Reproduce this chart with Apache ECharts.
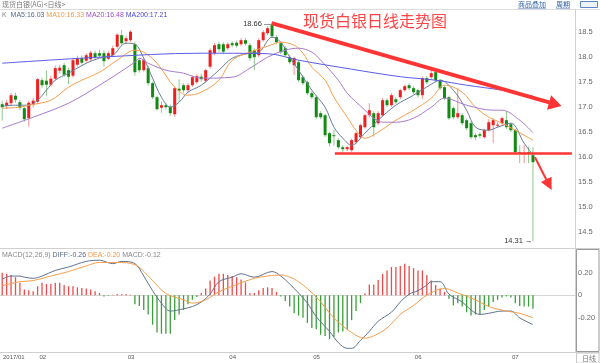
<!DOCTYPE html>
<html><head><meta charset="utf-8">
<script src="https://cdn.jsdelivr.net/npm/echarts@6/dist/echarts.min.js"></script>
<style>html,body{margin:0;padding:0;background:#fff}#c{width:600px;height:363px}</style>
</head><body><div id="c"></div>
<script>
// ---- tick labels (month starts on the candle index axis) ----
const monthLabels = ['2017/01','02','03','04','05','06','07'];
const monthStarts = [0, 9, 29, 52, 71, 94, 116];
const priceTicks = [14.5, 15.0, 15.5, 16.0, 16.5, 17.0, 17.5, 18.0, 18.5];
const macdTicks = [-0.2, 0, 0.2];

// ---- daily candles ----
const opens = [17.05,17.02,17.07,17.22,17.09,16.97,16.77,17.04,17.10,17.53,
17.52,17.44,17.56,17.72,17.83,17.73,17.62,17.84,17.97,17.92,
17.95,18.07,18.07,18.07,17.96,18.03,18.20,18.43,18.31,18.33,
18.25,17.93,17.73,17.77,17.47,17.19,16.98,17.03,17.00,16.85,
17.36,17.43,17.33,17.43,17.49,17.60,17.52,17.80,18.07,18.25,
18.25,18.17,18.27,18.28,18.25,18.33,18.23,18.13,18.03,18.33,
18.47,18.63,18.39,18.27,18.17,17.99,17.83,17.89,17.59,17.49,
17.27,17.19,16.87,16.83,16.47,16.43,16.33,16.19,16.15,16.13,
16.29,16.39,16.59,16.83,16.87,16.67,16.83,17.13,17.03,17.15,
17.19,17.33,17.43,17.37,17.33,17.23,17.57,17.59,17.69,17.53,
17.39,17.19,16.97,16.79,16.83,16.73,16.67,16.43,16.45,16.39,
16.53,16.63,16.63,16.67,16.73,16.65,16.53,16.09,16.08,16.09,16.03];
const closes = [16.99,17.08,17.23,17.14,16.98,16.75,17.08,17.12,17.55,17.43,
17.44,17.56,17.77,17.78,17.64,17.60,17.93,17.97,17.88,18.03,
18.08,17.99,18.02,17.91,18.07,18.17,18.44,18.27,18.37,18.50,
17.69,17.73,17.93,17.47,17.19,16.95,17.03,16.99,16.87,17.37,
17.32,17.33,17.43,17.59,17.61,17.55,17.73,18.13,18.23,18.15,
18.10,18.25,18.23,18.22,18.33,18.26,17.97,17.99,18.33,18.49,
18.57,18.41,18.29,18.09,18.03,17.89,17.97,17.53,17.47,17.27,
17.19,16.79,16.79,16.43,16.27,16.41,16.19,16.15,16.19,16.33,
16.47,16.63,16.83,16.93,16.59,16.87,17.13,17.03,17.23,17.09,
17.33,17.41,17.37,17.29,17.23,17.57,17.49,17.67,17.53,17.37,
17.17,16.77,16.79,16.87,16.67,16.57,16.39,16.39,16.42,16.53,
16.69,16.73,16.64,16.77,16.59,16.53,16.09,16.07,16.08,16.07,15.89];
const lows = [16.72,16.95,17.02,17.08,16.93,16.70,16.60,16.98,17.05,17.38,
17.22,17.40,17.52,17.66,17.60,17.45,17.58,17.80,17.84,17.88,
17.90,17.95,17.98,17.80,17.93,18.00,18.16,18.24,18.27,18.29,
17.62,17.68,17.70,17.42,17.15,16.92,16.88,16.94,16.82,16.80,
17.10,17.28,17.29,17.40,17.46,17.50,17.48,17.76,18.03,18.10,
18.06,18.13,18.19,18.18,18.21,18.22,17.92,17.73,17.99,18.30,
18.43,18.38,18.25,18.05,18.00,17.85,17.63,17.49,17.43,17.23,
17.15,16.75,16.75,16.39,16.20,16.22,16.16,16.09,16.11,16.10,
16.26,16.36,16.56,16.79,16.40,16.63,16.80,16.99,17.00,17.05,
17.15,17.30,17.33,17.25,17.18,17.15,17.45,17.55,17.49,17.33,
17.13,16.73,16.75,16.75,16.63,16.53,16.35,16.33,16.37,16.36,
16.50,16.27,16.58,16.63,16.55,16.49,16.05,15.87,15.87,15.87,14.31];
const highs = [17.12,17.14,17.27,17.28,17.14,17.00,17.12,17.17,17.58,17.58,
17.72,17.62,17.82,17.84,17.88,17.78,17.98,18.02,18.03,18.07,
18.12,18.12,18.14,18.13,18.11,18.22,18.47,18.54,18.42,18.53,
18.30,17.98,17.97,17.82,17.50,17.22,17.10,17.08,17.04,17.40,
17.55,17.47,17.47,17.62,17.65,17.66,17.76,18.17,18.27,18.30,
18.29,18.29,18.31,18.32,18.37,18.37,18.27,18.17,18.37,18.53,
18.61,18.66,18.43,18.30,18.21,18.03,18.00,17.93,17.63,17.52,
17.31,17.22,16.91,16.86,16.50,16.54,16.37,16.23,16.22,16.36,
16.50,16.66,16.86,17.07,16.91,16.91,17.17,17.17,17.27,17.19,
17.36,17.44,17.47,17.41,17.36,17.60,17.61,17.73,17.72,17.56,
17.42,17.22,17.00,17.37,16.87,16.76,16.70,16.47,16.49,16.56,
16.75,16.77,16.69,16.80,16.90,16.68,16.56,16.23,16.23,16.20,16.19];

// ---- moving averages, read at sample candles (index / value) ----
const ma5Idx = [0,3,6,8,10,12,15,19,22,25,28,30,32,34,36,38,40,42,45,49,52,56,58,61,63,65,67,70,73,75,77,79,82,85,89,93,97,99,102,105,107,110,112,115,118,120];
const ma5Val = [17.01,17.03,17.03,17.13,17.33,17.53,17.67,17.87,17.97,18.03,18.27,18.25,17.97,17.57,17.19,16.99,17.09,17.29,17.43,17.73,17.97,18.07,18.09,18.39,18.29,17.99,17.73,17.33,16.99,16.59,16.37,16.23,16.47,16.73,17.03,17.23,17.45,17.53,17.33,16.93,16.59,16.53,16.59,16.67,16.27,16.03];
const ma10Idx = [0,4,6,11,15,18,22,26,30,32,35,39,42,45,49,52,56,60,63,66,68,70,73,75,78,80,82,85,89,93,97,100,104,107,110,113,116,119,120];
const ma10Val = [16.97,16.99,17.03,17.13,17.39,17.53,17.69,17.93,18.13,18.09,17.87,17.39,17.23,17.29,17.53,17.93,18.09,18.21,18.29,18.23,18.07,17.79,17.53,17.19,16.79,16.53,16.37,16.49,16.73,16.93,17.17,17.43,17.29,16.99,16.79,16.67,16.53,16.38,16.33];
const ma20Idx = [0,7,15,22,30,31,33,37,41,45,52,56,60,64,67,70,72,76,78,82,84,86,89,93,97,100,105,111,113,117,120];
const ma20Val = [16.57,16.79,17.07,17.43,17.89,17.97,17.87,17.73,17.67,17.57,17.59,17.77,17.99,18.13,18.17,18.09,17.93,17.53,17.27,16.93,16.77,16.69,16.69,16.77,16.99,17.17,17.03,16.93,16.93,16.73,16.48];
const ma200Idx = [0,22,45,60,67,79,90,98,105,113,120];
const ma200Val = [17.87,17.99,18.07,18.06,17.93,17.75,17.60,17.53,17.43,17.33,17.21];

// ---- MACD(12,26,9) ----
const macdHist = [0.20,0.19,0.18,0.16,0.11,0.05,0.045,0.035,0.08,0.11,
0.10,0.10,0.11,0.11,0.09,0.08,0.08,0.07,0.065,0.06,
0.05,0.035,0.02,-0.01,-0.005,0.005,0.01,0.01,0.01,0.005,
-0.08,-0.095,-0.13,-0.17,-0.26,-0.33,-0.34,-0.34,-0.34,-0.22,
-0.17,-0.13,-0.08,-0.04,-0.015,0.02,0.06,0.13,0.165,0.19,
0.19,0.18,0.17,0.16,0.14,0.115,0.02,0.02,0.045,0.065,
0.07,0.065,0.03,-0.01,-0.05,-0.10,-0.16,-0.18,-0.20,-0.245,
-0.29,-0.30,-0.35,-0.36,-0.39,-0.37,-0.33,-0.32,-0.30,-0.22,
-0.14,-0.07,0.015,0.095,0.095,0.135,0.19,0.22,0.25,0.25,
0.26,0.28,0.26,0.24,0.22,0.22,0.18,0.13,0.09,0.06,
0.03,-0.03,-0.09,-0.07,-0.10,-0.15,-0.18,-0.17,-0.165,-0.13,
-0.10,-0.06,-0.04,-0.02,-0.01,-0.02,-0.07,-0.095,-0.10,-0.10,-0.12];
const diffIdx = [0,2,4,5,7,9,12,15,19,22,25,27,30,32,34,36,38,41,43,45,47,49,52,54,57,61,63,65,67,69,71,74,76,78,79,81,83,85,88,90,92,94,96,97,99,101,104,106,108,110,113,115,117,120];
const diffVal = [0.143,0.17,0.17,0.16,0.15,0.17,0.22,0.25,0.30,0.31,0.28,0.30,0.28,0.17,0.04,-0.07,-0.14,-0.12,-0.10,-0.06,0.01,0.12,0.16,0.19,0.16,0.21,0.17,0.10,0.02,-0.07,-0.19,-0.32,-0.42,-0.47,-0.47,-0.40,-0.32,-0.23,-0.15,-0.06,0.01,0.04,0.09,0.12,0.12,0.01,-0.06,-0.13,-0.17,-0.16,-0.14,-0.14,-0.20,-0.26];
const deaIdx = [0,4,7,11,15,19,22,26,30,34,37,41,43,46,49,53,57,60,63,65,67,71,75,79,82,84,87,90,93,96,100,103,107,110,114,117,120];
const deaVal = [0.085,0.12,0.13,0.17,0.21,0.26,0.29,0.29,0.27,0.13,0.015,-0.04,-0.07,-0.04,0.03,0.095,0.15,0.17,0.18,0.16,0.12,-0.015,-0.20,-0.33,-0.38,-0.36,-0.29,-0.17,-0.09,0.0,0.06,0.02,-0.04,-0.10,-0.14,-0.16,-0.20];

// ---- build ----
const nSlots = 130;
const slotCats = Array.from({length: nSlots}, (_, i) => String(i));
const pairs = (ix, vs) => ix.map((x, k) => [x, vs[k]]);
const candleRows = opens.map((o, i) => [i, o, closes[i], lows[i], highs[i]]);
let maxI = 0, minI = 0;
highs.forEach((h, i) => { if (h > highs[maxI]) maxI = i; });
lows.forEach((l, i) => { if (l < lows[minI]) minI = i; });

const C = {ma5:'#687c9a', ma10:'#f5a04c', ma20:'#a77bd0', ma200:'#5c5ce6',
  up:'#f01e1e', down:'#138a13', upWick:'#f59090', downWick:'#8cca8c',
  red:'#ff3535'};
const NUM = 'Liberation Sans, Arial, sans-serif';
const SANS = 'Liberation Sans, Arial, sans-serif';
const CJK = 'Noto Sans CJK SC, sans-serif';
const last = a => a[a.length - 1];

const chart = echarts.init(document.getElementById('c'), null, {renderer: 'canvas'});
const lineS = (name, idx, vs, color, xi, yi) => ({
  name, type: 'line', xAxisIndex: xi, yAxisIndex: yi, data: pairs(idx, vs),
  smooth: 0.35, symbol: 'none', lineStyle: {color, width: 1}, silent: true, z: 3
});

const option = {
  animation: false,
  backgroundColor: '#fff',
  grid: [
    {left: 0, right: 25, top: 6.7, height: 250},
    {left: 0, right: 25, top: 227.5, height: 138},
    {left: 0, right: 25, top: 249, height: 103}
  ],
  xAxis: [
    {type: 'value', gridIndex: 0, min: -0.5, max: nSlots - 0.5, show: false},
    {type: 'value', gridIndex: 1, min: -0.5, max: nSlots - 0.5,
      axisLine: {show: true, onZero: true, lineStyle: {color: '#d6d6d6', width: 1}},
      axisTick: {show: false}, axisLabel: {show: false}, splitLine: {show: false}},
    {type: 'category', gridIndex: 2, data: slotCats, boundaryGap: true,
      axisLine: {show: false}, axisTick: {show: false}, splitLine: {show: false},
      axisLabel: {
        interval: (idx) => monthStarts.indexOf(idx) >= 0,
        formatter: (v, idx) => { const k = monthStarts.indexOf(idx); return k >= 0 ? monthLabels[k] : ''; },
        margin: 2, fontSize: 6, color: '#555', fontFamily: SANS, alignMinLabel: 'left'
      }}
  ],
  yAxis: [
    {type: 'value', gridIndex: 0, position: 'right', min: 14, max: 19, interval: 0.5,
      axisLine: {show: false}, axisTick: {show: false}, splitLine: {show: false},
      axisLabel: {margin: 3, fontSize: 7.5, color: '#666', fontFamily: NUM,
        showMinLabel: false, showMaxLabel: false,
        formatter: v => priceTicks.some(t => Math.abs(t - v) < 1e-6) ? v.toFixed(1) : ''}},
    {type: 'value', gridIndex: 1, position: 'right', min: -0.6, max: 0.6, interval: 0.2,
      axisLine: {show: false}, axisTick: {show: false}, splitLine: {show: false},
      axisLabel: {margin: 3, fontSize: 7.5, color: '#666', fontFamily: NUM,
        showMinLabel: false, showMaxLabel: false,
        formatter: v => macdTicks.some(t => Math.abs(t - v) < 1e-6) ? (Math.abs(v) < 1e-6 ? '0' : v.toFixed(2)) : ''}},
    {type: 'value', gridIndex: 2, show: false}
  ],
  series: [
    {
      name: 'K', type: 'custom', xAxisIndex: 0, yAxisIndex: 0, data: candleRows,
      encode: {x: 0, y: [1, 2, 3, 4]}, silent: true, z: 2,
      renderItem: (params, api) => {
        const x = api.value(0), o = api.value(1), c = api.value(2), l = api.value(3), h = api.value(4);
        const po = api.coord([x, o]), pc = api.coord([x, c]), pl = api.coord([x, l]), ph = api.coord([x, h]);
        const w = api.size([1, 0])[0] * 0.68;
        const up = c >= o;
        const top = Math.min(po[1], pc[1]);
        const hh = Math.max(Math.abs(po[1] - pc[1]), 1);
        return {type: 'group', children: [
          {type: 'line', shape: {x1: ph[0], y1: ph[1], x2: pl[0], y2: pl[1]},
            style: {stroke: up ? C.upWick : C.downWick, lineWidth: 1}},
          {type: 'rect', shape: {x: po[0] - w / 2, y: top, width: w, height: hh},
            style: {fill: up ? C.up : C.down}}
        ]};
      },
      markPoint: {
        symbol: 'circle', symbolSize: 1, itemStyle: {color: 'rgba(0,0,0,0)'}, silent: true,
        data: [
          {coord: [maxI, highs[maxI]], label: {show: true, position: 'left', distance: 0,
            formatter: highs[maxI].toFixed(2) + ' —', fontSize: 7.5, color: '#333', fontFamily: NUM}},
          {coord: [minI, lows[minI]], label: {show: true, position: 'left', distance: 0,
            formatter: lows[minI].toFixed(2) + ' →', fontSize: 7.5, color: '#333', fontFamily: NUM}}
        ]
      }
    },
    lineS('MA5', ma5Idx, ma5Val, C.ma5, 0, 0),
    lineS('MA10', ma10Idx, ma10Val, C.ma10, 0, 0),
    lineS('MA20', ma20Idx, ma20Val, C.ma20, 0, 0),
    Object.assign(lineS('MA200', ma200Idx, ma200Val, C.ma200, 0, 0), {
      markLine: {
        silent: true, symbol: ['none', 'none'], label: {show: false}, z: 10,
        data: [
          [{coord: [60.9, 18.67], lineStyle: {color: C.red, width: 4, type: 'solid'}},
           {coord: [125.05, 17.05], symbol: 'triangle', symbolSize: [15, 13]}],
          [{coord: [75.2, 16.068], lineStyle: {color: C.red, width: 2.5, type: 'solid'}},
           {coord: [128.8, 16.068]}],
          [{coord: [120.45, 15.99], lineStyle: {color: C.red, width: 2, type: 'solid'}},
           {coord: [123.6, 15.44], symbol: 'triangle', symbolSize: [12, 12]}]
        ]
      }
    }),
    {
      name: 'MACD', type: 'bar', xAxisIndex: 1, yAxisIndex: 1, barWidth: 1.3, silent: true,
      data: macdHist.map((v, i) => [i, v]),
      itemStyle: {color: p => p.value[1] >= 0 ? '#f04a4a' : '#3a9e3a'}
    },
    lineS('DIFF', diffIdx, diffVal, '#5f7391', 1, 1),
    lineS('DEA', deaIdx, deaVal, '#f5a04c', 1, 1)
  ],
  graphic: [
    {type: 'line', silent: true, shape: {x1: 0, y1: 9.5, x2: 600, y2: 9.5}, style: {stroke: '#dcdcdc', lineWidth: 1}},
    {type: 'line', silent: true, shape: {x1: 575.5, y1: 9, x2: 575.5, y2: 352}, style: {stroke: '#d0d0d0', lineWidth: 1}},
    {type: 'line', silent: true, shape: {x1: 0, y1: 248.5, x2: 600, y2: 248.5}, style: {stroke: '#d0d0d0', lineWidth: 1}},
    {type: 'line', silent: true, shape: {x1: 0, y1: 352.5, x2: 600, y2: 352.5}, style: {stroke: '#cfcfcf', lineWidth: 1}},
    {type: 'rect', silent: true, shape: {x: 576.5, y: 249.5, width: 22.5, height: 102}, style: {fill: 'none', stroke: '#9a9a9a', lineWidth: 1}},
    {type: 'rect', silent: true, shape: {x: 576.5, y: 353, width: 22.5, height: 10}, style: {fill: 'none', stroke: '#c8c8c8', lineWidth: 1}},
    {type: 'text', silent: true, x: 2, y: 0.5, style: {text: '现货白银(AG)<日线>', fill: '#7a7a7a', fontSize: 7, fontFamily: CJK}},
    {type: 'text', silent: true, x: 518, y: 0.5, style: {text: '商品叠加', fill: '#2f62a8', fontSize: 7, fontFamily: CJK}},
    {type: 'line', silent: true, shape: {x1: 518, y1: 8.5, x2: 546, y2: 8.5}, style: {stroke: '#6b8fc4', lineWidth: 0.6}},
    {type: 'text', silent: true, x: 556, y: 0.5, style: {text: '周期', fill: '#2f62a8', fontSize: 7, fontFamily: CJK}},
    {type: 'line', silent: true, shape: {x1: 556, y1: 8.5, x2: 570, y2: 8.5}, style: {stroke: '#6b8fc4', lineWidth: 0.6}},
    {type: 'rect', silent: true, shape: {x: 580.5, y: 1.5, width: 17, height: 6}, style: {fill: '#eef3fa', stroke: '#5b86c2', lineWidth: 1}},
    {type: 'text', silent: true, x: 2, y: 15.5, style: {
      text: '{k|K}  {a|MA5:' + last(ma5Val).toFixed(2) + '} {b|MA10:' + last(ma10Val).toFixed(2) + '} {c|MA20:' + last(ma20Val).toFixed(2) + '} {d|MA200:' + last(ma200Val).toFixed(2) + '}',
      verticalAlign: 'middle', fontSize: 7, fontFamily: SANS,
      rich: {k: {fill: '#888', fontSize: 7}, a: {fill: '#55698a', fontSize: 7}, b: {fill: '#f39a3e', fontSize: 7},
        c: {fill: '#9a50c4', fontSize: 7}, d: {fill: '#4a4ad8', fontSize: 7}}}},
    {type: 'text', silent: true, x: 303, y: 12.5, style: {text: '现货白银日线走势图', fill: '#ff4545', fontSize: 16, fontFamily: CJK}},
    {type: 'text', silent: true, x: 2, y: 255.5, style: {
      text: '{g|MACD(12,26,9)} {a|DIFF:' + last(diffVal).toFixed(2) + '} {b|DEA:' + last(deaVal).toFixed(2) + '} {g|MACD:' + last(macdHist).toFixed(2) + '}',
      verticalAlign: 'middle', fontSize: 7, fontFamily: SANS,
      rich: {g: {fill: '#888', fontSize: 7}, a: {fill: '#55698a', fontSize: 7}, b: {fill: '#f39a3e', fontSize: 7}}}},
    {type: 'text', silent: true, x: 582, y: 358, style: {text: '日线', fill: '#777', fontSize: 7, fontFamily: CJK, verticalAlign: 'middle'}}
  ]
};
chart.setOption(option);
</script>
</body></html>
